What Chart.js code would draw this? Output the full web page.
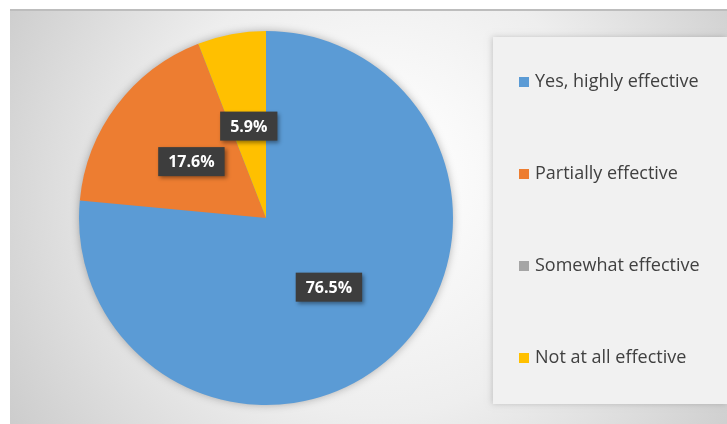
<!DOCTYPE html>
<html lang="en">
<head>
<meta charset="UTF-8">
<title>Effectiveness pie</title>
<style>
  html,body{margin:0;background:#fff}
  #wrap{width:727px;height:424px;position:relative}
</style>
</head>
<body>
<div id="wrap"><canvas id="chart" width="727" height="424"></canvas></div>

<script src="https://cdn.jsdelivr.net/npm/chart.js@4.4.0/dist/chart.umd.min.js"></script>
<script>
/* ---------- Data ---------- */
const categories = ['Yes, highly effective', 'Partially effective', 'Somewhat effective', 'Not at all effective'];
const shares     = [76.5, 17.6, 0, 5.9];
const labelText  = ['76.5%', '17.6%', '', '5.9%'];
const colors     = ['#5B9BD5', '#ED7D31', '#A5A5A5', '#FFC000'];

/* ---------- Background + legend panel ---------- */
const backdrop = {
  id: 'backdrop',
  beforeDraw(chart){
    const c = chart.ctx, W = chart.width, H = chart.height;
    c.save();
    c.fillStyle = '#fff'; c.fillRect(0, 0, W, H);
    const g = c.createRadialGradient(380, 170, 20, 380, 210, 480);
    g.addColorStop(0, '#ffffff');
    g.addColorStop(0.45, '#eeeeee');
    g.addColorStop(1, '#c4c4c4');
    c.fillStyle = g; c.fillRect(10, 9, W - 10, H - 9);
    c.fillStyle = '#bdbdbd'; c.fillRect(10, 9, W - 10, 2);

    // legend panel
    c.shadowColor = 'rgba(0,0,0,0.18)'; c.shadowBlur = 6; c.shadowOffsetX = -1;
    c.fillStyle = '#f1f1f1'; c.fillRect(493, 37, W - 493, 367);
    c.restore();
  },
  beforeDatasetsDraw(chart){
    const c = chart.ctx;
    c.save();
    c.shadowColor = 'rgba(0,0,0,0.35)'; c.shadowBlur = 10;
    const arc = chart.getDatasetMeta(0).data[0];
    c.beginPath(); c.arc(arc.x, arc.y, arc.outerRadius - 1, 0, Math.PI * 2);
    c.fillStyle = colors[0]; c.fill();
    c.restore();
  },
  afterDraw(chart){
    const c = chart.ctx;
    const meta = chart.getDatasetMeta(0);
    c.save();
    // data labels
    c.font = 'bold 16px "Open Sans"';
    c.textAlign = 'center'; c.textBaseline = 'middle';
    meta.data.forEach((el, i) => {
      if (!shares[i]) return;
      const p = el.tooltipPosition();
      const w = c.measureText(labelText[i]).width + 20, h = 29;
      c.shadowColor = 'rgba(0,0,0,0.4)'; c.shadowBlur = 4; c.shadowOffsetX = 2; c.shadowOffsetY = 2;
      c.fillStyle = '#3d3d3d';
      c.fillRect(p.x - w / 2, p.y - h / 2, w, h);
      c.shadowColor = 'transparent';
      c.fillStyle = '#fff';
      c.fillText(labelText[i], p.x, p.y + 1);
    });
    // legend
    c.font = '18px "Open Sans"';
    c.textAlign = 'left';
    categories.forEach((name, i) => {
      const y = 82 + i * 92;
      c.fillStyle = colors[i];
      c.fillRect(519, y - 5, 10, 10);
      c.fillStyle = '#404040';
      c.fillText(name, 535, y);
    });
    c.restore();
  }
};

/* ---------- Chart ---------- */
new Chart(document.getElementById('chart'), {
  type: 'pie',
  data: {
    labels: categories,
    datasets: [{ data: shares, backgroundColor: colors, borderWidth: 0 }]
  },
  options: {
    responsive: false,
    animation: false,
    layout: { padding: { left: 79, right: 274, top: 31, bottom: 19 } },
    plugins: { legend: { display: false }, tooltip: { enabled: false } }
  },
  plugins: [backdrop]
});
</script>
</body>
</html>
